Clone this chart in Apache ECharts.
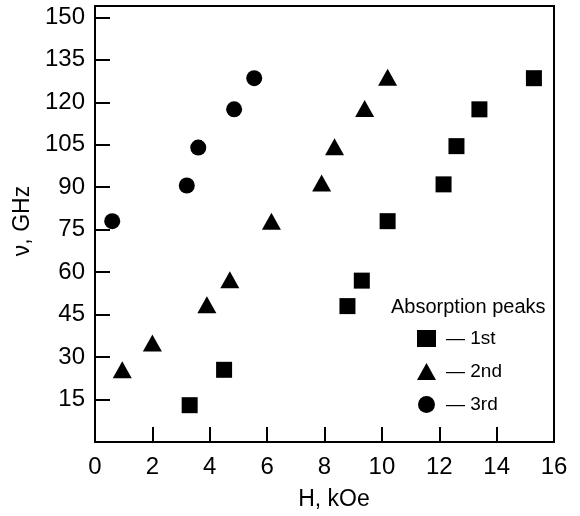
<!DOCTYPE html>
<html>
<head>
<meta charset="utf-8">
<script src="https://cdn.jsdelivr.net/npm/echarts@6/dist/echarts.min.js"></script>
<style>
  html, body { margin: 0; padding: 0; background: #fff; }
  #chart { width: 580px; height: 516px; }
</style>
</head>
<body>
<div id="chart"></div>
<script>
// Absorption peak positions: field H (kOe) vs frequency ν (GHz)
const peak1st = [[3.3, 13], [4.5, 25.5], [8.8, 48], [9.3, 57], [10.2, 78], [12.15, 91], [12.6, 104.5], [13.4, 117.5], [15.3, 128.5]];
const peak2nd = [[0.95, 25.5], [2.0, 35], [3.9, 48.5], [4.7, 57.3], [6.15, 78], [7.9, 91.5], [8.35, 104.3], [9.4, 117.8], [10.2, 128.8]];
const peak3rd = [[0.6, 78], [3.2, 90.6], [3.6, 104], [4.85, 117.5], [5.55, 128.5]];

const seriesNames = ['1st', '2nd', '3rd'];
const xTicks = [0, 2, 4, 6, 8, 10, 12, 14, 16];
const yTicks = [15, 30, 45, 60, 75, 90, 105, 120, 135, 150];

const FONT = '"Liberation Sans", Arial, Helvetica, sans-serif';
const chart = echarts.init(document.getElementById('chart'), null, { renderer: 'canvas' });

const axisCommon = {
  axisLine: { show: true, onZero: false, lineStyle: { color: '#000', width: 2 } },
  axisTick: { show: true, inside: true, length: 15, lineStyle: { color: '#000', width: 2 } },
  splitLine: { show: false },
  axisLabel: { color: '#000', fontFamily: FONT, fontSize: 24 },
  nameTextStyle: { color: '#000', fontFamily: FONT, fontSize: 23 }
};

chart.setOption({
  backgroundColor: '#fff',
  animation: false,
  title: {
    text: 'Absorption peaks',
    left: 391, top: 297,
    padding: 0,
    textStyle: { color: '#000', fontFamily: FONT, fontSize: 20, fontWeight: 'normal' }
  },
  grid: {
    left: 95, right: 26, top: 6, bottom: 74,
    show: true, borderColor: '#000', borderWidth: 2, backgroundColor: 'transparent'
  },
  legend: {
    data: seriesNames,
    orient: 'vertical',
    left: 417, top: 329,
    padding: 0,
    itemWidth: 19, itemHeight: 17, itemGap: 14,
    formatter: name => '\u2014 ' + name,
    textStyle: { color: '#000', fontFamily: FONT, fontSize: 19, padding: [0, 0, 0, 5] }
  },
  xAxis: Object.assign({}, axisCommon, {
    type: 'value', min: 0, max: 16, interval: 2,
    name: 'H, kOe', nameLocation: 'middle', nameGap: 46,
    nameTextStyle: Object.assign({}, axisCommon.nameTextStyle, { padding: [0, 0, 0, 19] }),
    axisLabel: Object.assign({}, axisCommon.axisLabel, { customValues: xTicks, margin: 13 }),
    axisTick: Object.assign({}, axisCommon.axisTick, { customValues: xTicks })
  }),
  yAxis: Object.assign({}, axisCommon, {
    type: 'value', min: 0, max: 154,
    name: 'ν, GHz', nameLocation: 'middle', nameGap: 60,
    nameTextStyle: Object.assign({}, axisCommon.nameTextStyle, { padding: [0, 0, 0, 6] }),
    axisLabel: Object.assign({}, axisCommon.axisLabel, { customValues: yTicks, margin: 10 }),
    axisTick: Object.assign({}, axisCommon.axisTick, { customValues: yTicks })
  }),
  series: [
    { name: '1st', type: 'scatter', data: peak1st, symbol: 'rect', symbolSize: 16, itemStyle: { color: '#000', opacity: 1 } },
    { name: '2nd', type: 'scatter', data: peak2nd, symbol: 'triangle', symbolSize: [19, 17], itemStyle: { color: '#000', opacity: 1 } },
    { name: '3rd', type: 'scatter', data: peak3rd, symbol: 'circle', symbolSize: 16, itemStyle: { color: '#000', opacity: 1 } }
  ]
});
</script>
</body>
</html>
